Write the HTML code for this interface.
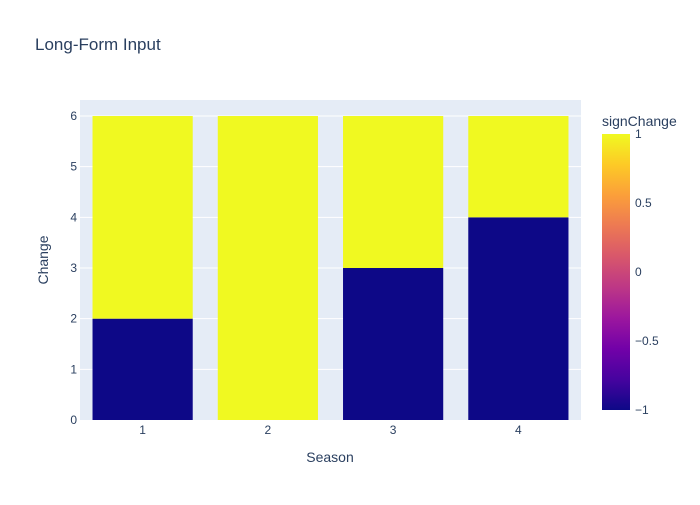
<!DOCTYPE html>
<html><head><meta charset="utf-8"><style>
body{margin:0;background:#fff;font-family:"Liberation Sans",sans-serif}
text{font-family:"Liberation Sans",sans-serif}
</style></head><body>
<svg id="chart" width="700" height="500">
<defs><linearGradient id="plasma" x1="0" y1="1" x2="0" y2="0">
<stop offset="0" stop-color="#0d0887"/><stop offset="0.111" stop-color="#46039f"/><stop offset="0.222" stop-color="#7201a8"/><stop offset="0.333" stop-color="#9c179e"/><stop offset="0.444" stop-color="#bd3786"/><stop offset="0.556" stop-color="#d8576b"/><stop offset="0.667" stop-color="#ed7953"/><stop offset="0.778" stop-color="#fb9f3a"/><stop offset="0.889" stop-color="#fdca26"/><stop offset="1" stop-color="#f0f921"/>
</linearGradient></defs>
<rect x="0" y="0" width="700" height="500" fill="#fff"/>
<text x="35" y="50" font-size="17" fill="#2a3f5f">Long-Form Input</text>
<rect x="80" y="100" width="501" height="320" fill="#e5ecf6"/>
<g id="grid"></g><g id="bars"></g><g id="axes"></g>
<text x="330" y="462" font-size="14" fill="#2a3f5f" text-anchor="middle">Season</text>
<text x="48" y="260" font-size="14" fill="#2a3f5f" text-anchor="middle" transform="rotate(-90 48 260)">Change</text>
<text x="602" y="126" font-size="14" fill="#2a3f5f">signChange</text>
<rect x="602" y="134" width="28" height="276" fill="url(#plasma)"/>
<g id="cbticks"></g>
</svg>
<script>
const categories=["1","2","3","4"];
const negValues=[2,0,3,4];
const posValues=[4,6,3,2];
const yTicks=[0,1,2,3,4,5,6];
const cbTicks=[1,0.5,0,-0.5,-1];
const cbLabels=["1","0.5","0","−0.5","−1"];
const NS="http://www.w3.org/2000/svg";
const x0=80,w=501,y0=420,ymax=6.316;
const ys=v=>y0-v/ymax*320;
const xc=i=>x0+w/categories.length*(i+0.5);
const bw=w/categories.length*0.8;
function mk(t,a,p){const e=document.createElementNS(NS,t);for(const k in a)e.setAttribute(k,a[k]);p.appendChild(e);return e;}
const grid=document.getElementById('grid'),bars=document.getElementById('bars'),axes=document.getElementById('axes'),cb=document.getElementById('cbticks');
yTicks.forEach(v=>{
 if(v>0){const l=mk('line',{x1:x0,x2:x0+w,y1:ys(v),y2:ys(v),stroke:'#fff','stroke-width':1},grid);
 
 }
 const t=mk('text',{x:x0-3,y:ys(v)+4,'font-size':12,fill:'#2a3f5f','text-anchor':'end'},axes);t.textContent=v;
 
 
});
categories.forEach((c,i)=>{
 const n=negValues[i],p=posValues[i];
 const r1=mk('rect',{x:xc(i)-bw/2,y:ys(n),width:bw,height:ys(0)-ys(n),fill:'#0d0887'},bars);
 
 
 const r2=mk('rect',{x:xc(i)-bw/2,y:ys(n+p),width:bw,height:ys(n)-ys(n+p),fill:'#f0f921'},bars);
 
 
 const t=mk('text',{x:xc(i),y:y0+14,'font-size':12,fill:'#2a3f5f','text-anchor':'middle'},axes);t.textContent=c;
 
 
});
cbTicks.forEach((v,i)=>{
 const y=134+(1-v)/2*276;
 const t=mk('text',{x:635,y:y+4,'font-size':12,fill:'#2a3f5f'},cb);t.textContent=cbLabels[i];
 
 
});
</script>
</body></html>
